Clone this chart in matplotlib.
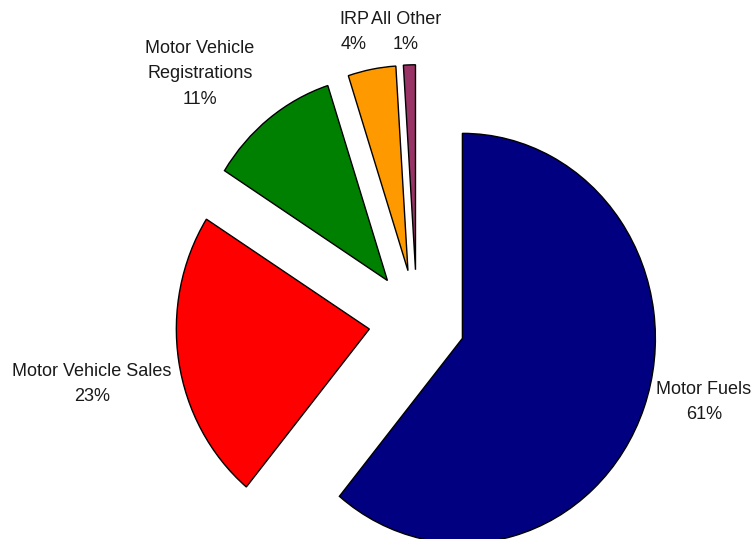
import matplotlib.pyplot as plt
import numpy as np

plt.rcParams['font.family'] = ['Liberation Sans', 'DejaVu Sans']

categories = ['Motor Fuels', 'Motor Vehicle Sales', 'Motor Vehicle\nRegistrations', 'IRP', 'All Other']
shares = [61, 23, 11, 4, 1]
colors = ['#000080', '#FF0000', '#008000', '#FF9900', '#993366']

# label anchor points in data units (pie centre at 0,0, radius 1)
label_pos = [(1.487, -0.395), (-1.684, -0.307), (-1.124, 1.205), (-0.326, 1.41), (-0.057, 1.41)]


def main():
	fig = plt.figure(figsize=(7.54, 5.39), dpi=100)
	ax = fig.add_axes([0, 0, 1, 1])

	ax.pie(
		shares,
		colors=colors,
		explode=[0.25] * len(shares),
		startangle=90,
		counterclock=False,
		wedgeprops=dict(edgecolor='black', linewidth=1.0),
	)

	for name, value, (x, y) in zip(categories, shares, label_pos):
		ax.text(x, y, f'{name}\n{value}%', ha='center', va='center',
			fontsize=13, color='#1a1a1a', linespacing=1.62)

	# slightly taller than wide
	ax.set_aspect('auto')
	ax.set_xlim(-417 / 193, (754 - 417) / 193)
	ax.set_ylim(-(539 - 321) / 205, 321 / 205)
	ax.axis('off')

	fig.savefig('out.png', dpi=100)


if __name__ == '__main__':
	main()
